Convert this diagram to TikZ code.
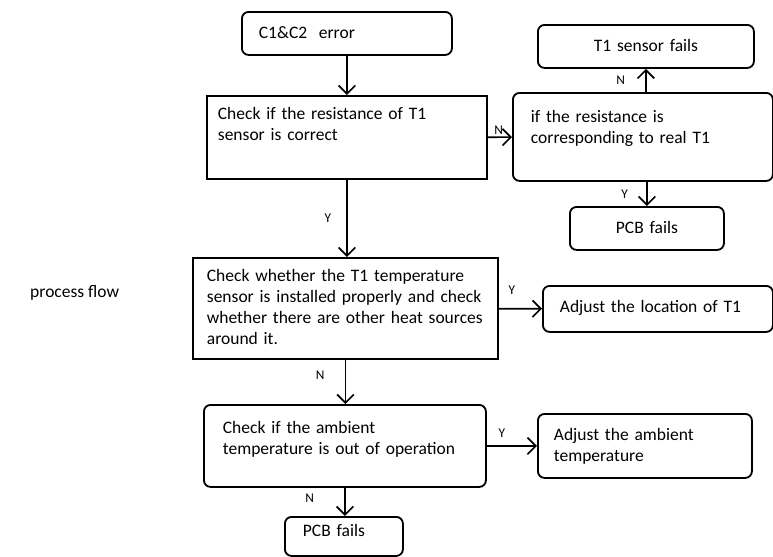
\documentclass[tikz,border=0pt]{standalone}
\usepackage{fontspec}
\setmainfont{Carlito}
\usetikzlibrary{arrows.meta}

\begin{document}
\begin{tikzpicture}[x=0.6pt, y=-0.6pt,
    box/.style={draw, line width=1.1pt, anchor=north west, align=left, inner ysep=0pt,
                font=\fontsize{10.5}{12.6}\selectfont},
    rbox/.style={box, rounded corners=4pt},
    lbl/.style={font=\fontsize{8}{9}\selectfont, inner sep=1pt},
    >={Straight Barb[length=5pt,width=10pt]}, line width=1pt]
    \useasboundingbox (0,0) rectangle (773,556);

    % Boxes (placed by their top left corner)
    \node[rbox, text width=105.6pt, inner xsep=10.2pt, text height=16.2pt, text depth=9.6pt] (start) at (241,11) {C1\&C2~ error};
    \node[box, text width=154.8pt, inner xsep=6.6pt, text height=14.4pt, text depth=35.4pt] (chkres) at (206,95) {Check if the resistance of T1\\sensor is correct};
    \node[rbox, text width=134.4pt, inner xsep=10.8pt, text height=18pt, text depth=34.8pt] (real) at (512,92) {if the resistance is\\corresponding to real T1};
    \node[rbox, align=center, text width=129.6pt, inner xsep=0pt, text height=16.2pt, text depth=9.6pt] (sensfail) at (537,24) {T1 sensor fails};
    \node[rbox, align=center, text width=92.4pt, inner xsep=0pt, text height=16.2pt, text depth=9.6pt] (pcba) at (569,206) {PCB fails};
    \node[box, text width=166.2pt, inner xsep=8.4pt, text height=14.4pt, text depth=46.2pt] (install) at (192,257) {Check whether the T1 temperature\\sensor is installed properly and check\\whether there are other heat sources\\around it.};
    \node[rbox, text width=117.6pt, inner xsep=10.2pt, text height=16.2pt, text depth=11.4pt] (adjloc) at (542,285) {Adjust the location of T1};
    \node[rbox, text width=146.4pt, inner xsep=11.4pt, text height=17.4pt, text depth=31.8pt] (ambient) at (203,404) {Check if the ambient\\temperature is out of operation};
    \node[rbox, text width=109.2pt, inner xsep=9.6pt, text height=16.2pt, text depth=22.2pt] (adjamb) at (537,413) {Adjust the ambient\\temperature};
    \node[rbox, text width=49.2pt, inner xsep=10.8pt, text height=12pt, text depth=11.4pt] (pcbb) at (284,516) {PCB fails};

    \node[anchor=base east, inner sep=0pt, font=\fontsize{10.5}{12.6}\selectfont] (title) at (120,297) {process flow};

    % First check: resistance of T1
    \draw[->] (start) -- (chkres);
    \draw[->] (chkres) -- node[lbl, above, pos=0.45] {N} (real);
    \draw[->] (sensfail.south |- real.north) -- (sensfail.south) node[lbl, midway, left=11pt] {N};
    \draw[->] (pcba.north |- real.south) -- (pcba.north) node[lbl, midway, left=10pt] {Y};

    % Installation of T1
    \draw[->] (chkres.south) -- (chkres.south |- install.north) node[lbl, midway, left=8pt] {Y};
    \draw[->] (install) -- node[lbl, above, pos=0.3, yshift=7pt] {Y} (adjloc);

    % Ambient temperature
    \draw[->] (install.south) -- (install.south |- ambient.north) node[lbl, pos=0.35, left=11pt] {N};
    \draw[->] (ambient) -- node[lbl, above, pos=0.3, yshift=3.5pt] {Y} (adjamb);
    \draw[->] (ambient.south) -- (ambient.south |- pcbb.north) node[lbl, pos=0.37, left=17pt] {N};
\end{tikzpicture}
\end{document}
